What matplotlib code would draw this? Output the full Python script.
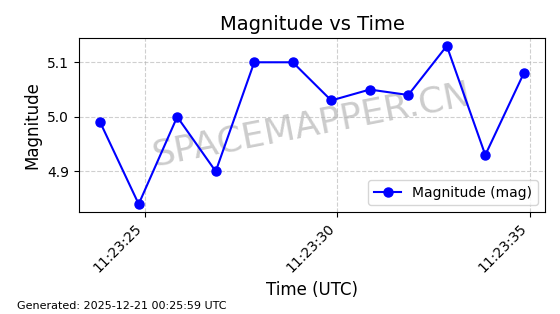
import matplotlib
matplotlib.use("Agg")
import matplotlib.pyplot as plt
import matplotlib.dates as mdates
import pandas as pd

times = ["2025-12-21 11:23:23.843", "2025-12-21 11:23:24.843", "2025-12-21 11:23:25.843",
         "2025-12-21 11:23:26.843", "2025-12-21 11:23:27.843", "2025-12-21 11:23:28.843",
         "2025-12-21 11:23:29.843", "2025-12-21 11:23:30.843", "2025-12-21 11:23:31.843",
         "2025-12-21 11:23:32.843", "2025-12-21 11:23:33.843", "2025-12-21 11:23:34.843"]
magnitudes = [4.99, 4.84, 5.00, 4.90, 5.10, 5.10, 5.03, 5.05, 5.04, 5.13, 4.93, 5.08]
yticks = [4.9, 5.0, 5.1]

t = pd.to_datetime(times)

fig = plt.figure(figsize=(5.6, 3.14), dpi=100)
ax = fig.add_axes([79/560, 1-212/314, (545-79)/560, (212-38)/314])
ax.plot(t, magnitudes, color="blue", marker="o", markersize=6.5, linewidth=1.5,
        label="Magnitude (mag)", zorder=3)
ax.set_title("Magnitude vs Time", fontsize=14)
ax.set_xlabel("Time (UTC)", fontsize=12)
ax.set_ylabel("Magnitude", fontsize=12)
ax.set_yticks(yticks)
ax.xaxis.set_major_locator(mdates.SecondLocator(bysecond=range(0, 60, 5)))
ax.xaxis.set_major_formatter(mdates.DateFormatter("%H:%M:%S"))
plt.setp(ax.get_xticklabels(), rotation=45, ha="right")
ax.grid(True, linestyle="--", alpha=0.6)
ax.legend(loc="lower right")
ax.text(0.5, 0.5, "SPACEMAPPER.CN", transform=ax.transAxes, fontsize=26,
        color="gray", alpha=0.4, rotation=11, ha="center", va="center", zorder=1)
fig.text(0.03, 0.015, "Generated: 2025-12-21 00:25:59 UTC", fontsize=8)
fig.savefig("out.png", dpi=100)
